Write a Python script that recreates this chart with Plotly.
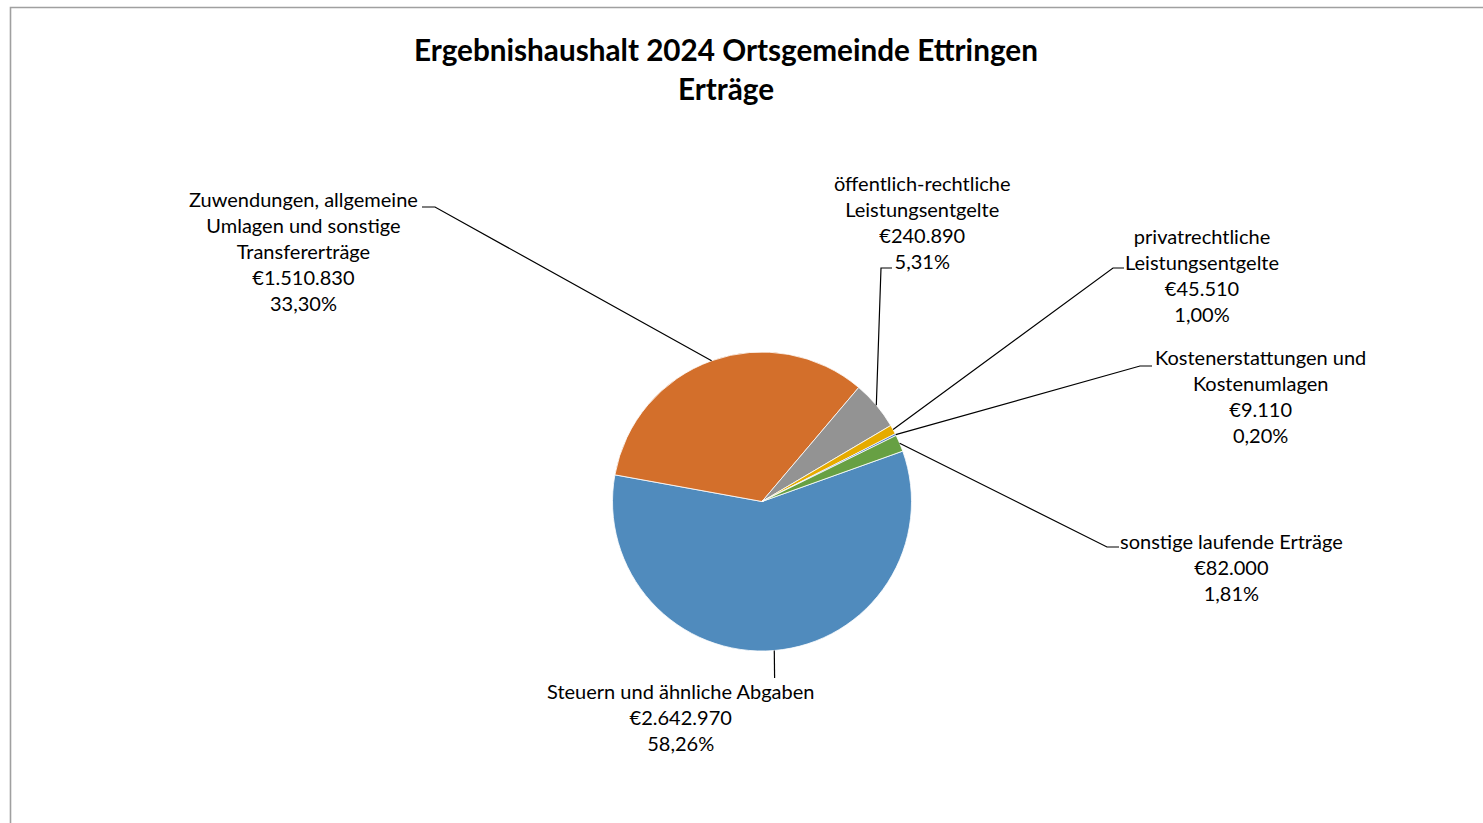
import math
import plotly.graph_objects as go

# ---------------- data ----------------
categories = [
    "Steuern und ähnliche Abgaben",
    "Zuwendungen, allgemeine<br>Umlagen und sonstige<br>Transfererträge",
    "öffentlich-rechtliche<br>Leistungsentgelte",
    "privatrechtliche<br>Leistungsentgelte",
    "Kostenerstattungen und<br>Kostenumlagen",
    "sonstige laufende Erträge",
]
values = [2642970, 1510830, 240890, 45510, 9110, 82000]
percents = [58.26, 33.30, 5.31, 1.00, 0.20, 1.81]
colors = ["#508BBD", "#D36F2B", "#939393", "#E6AB00", "#3F6FBF", "#67A043"]

title_lines = ["Ergebnishaushalt 2024 Ortsgemeinde Ettringen", "Erträge"]

# ---------------- layout parameters (pixels) ----------------
W, H = 1483, 823
CX, CY, R = 762, 501.5, 149.5
ROTATION = 70.3
FONT = "Lato, 'Open Sans', sans-serif"

# label centre (x, y) and leader elbow points (pixel space)
label_pos = [(680, 717), (303, 251), (922, 222), (1202, 275), (1260, 396), (1231, 567)]
leader_pts = [
    [(774.6, 678)],
    [(435, 207), (422, 207)],
    [(881, 268), (892, 268)],
    [(1113, 268), (1124, 268)],
    [(1140, 366), (1152, 366)],
    [(1107, 547), (1119, 547)],
]


def px(x):
    return x / W


def py(y):
    return 1 - y / H


def euro(v):
    return "€" + f"{v:,}".replace(",", ".")


def pct(p):
    return f"{p:.2f}".replace(".", ",") + "%"


fig = go.Figure()
fig.add_trace(go.Pie(
    labels=[c.replace("<br>", " ") for c in categories],
    values=values,
    sort=False,
    direction="clockwise",
    rotation=ROTATION,
    marker=dict(colors=colors, line=dict(color="white", width=0.8)),
    textinfo="none",
    hoverinfo="label+value+percent",
    showlegend=False,
    domain=dict(x=[px(CX - R), px(CX + R)], y=[py(CY + R), py(CY - R)]),
))

shapes = []
annotations = []

# compute slice mid-angles from the data
total = sum(values)
angle = ROTATION
for i, v in enumerate(values):
    span = v / total * 360
    mid = math.radians(angle + span / 2)
    angle += span
    sx = CX + R * math.sin(mid)
    sy = CY - R * math.cos(mid)
    pts = [(sx, sy)] + leader_pts[i]
    path = "M " + " L ".join(f"{px(x):.6f},{py(y):.6f}" for x, y in pts)
    shapes.append(dict(type="path", xref="paper", yref="paper", path=path,
                       line=dict(color="black", width=1.2)))
    lx, ly = label_pos[i]
    text = f"{categories[i]}<br>{euro(v)}<br>{pct(percents[i])}"
    annotations.append(dict(
        x=px(lx), y=py(ly), xref="paper", yref="paper",
        xanchor="center", yanchor="middle", align="center",
        text=text, showarrow=False,
        font=dict(family=FONT, size=20, color="#000000"),
    ))

# title
annotations.append(dict(x=px(726), y=py(49), xref="paper", yref="paper",
                        xanchor="center", yanchor="middle", showarrow=False,
                        text=f"<b>{title_lines[0]}</b>",
                        font=dict(family=FONT, size=29.7, color="#000000")))
annotations.append(dict(x=px(726), y=py(88), xref="paper", yref="paper",
                        xanchor="center", yanchor="middle", showarrow=False,
                        text=f"<b>{title_lines[1]}</b>",
                        font=dict(family=FONT, size=29.7, color="#000000")))

# chart area border (left and top visible)
shapes.append(dict(type="path", xref="paper", yref="paper",
                   path=f"M {px(10.5)},{py(830)} L {px(10.5)},{py(7.5)} L {px(1490)},{py(7.5)}",
                   line=dict(color="#A0A0A0", width=1.6)))

fig.update_layout(
    width=W, height=H,
    margin=dict(l=0, r=0, t=0, b=0),
    paper_bgcolor="white", plot_bgcolor="white",
    shapes=shapes, annotations=annotations,
    font=dict(family=FONT),
)

fig.write_html("out.html", config={"displayModeBar": False},
               post_script="document.body.style.margin='0';")
